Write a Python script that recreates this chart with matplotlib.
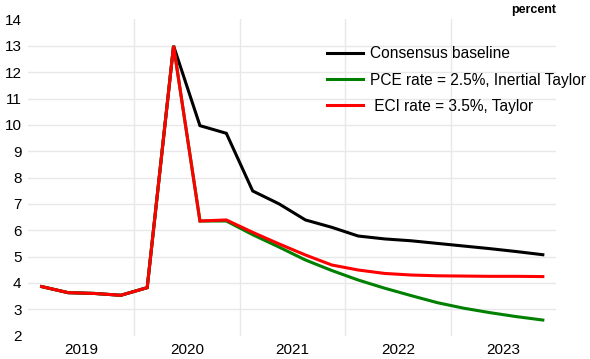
import matplotlib.pyplot as plt
import numpy as np

plt.rcParams['font.family'] = ['Liberation Sans', 'DejaVu Sans']

# quarterly points, 2019Q1 .. 2023Q4 (plotted at quarter midpoints)
quarters = np.arange(2019.125, 2024.0, 0.25)

baseline = [3.86, 3.63, 3.60, 3.53, 3.82, 13.0, 9.97, 9.68, 7.49, 7.00,
            6.39, 6.11, 5.78, 5.67, 5.60, 5.50, 5.40, 5.30, 5.19, 5.07]
pce_inertial = [3.86, 3.63, 3.60, 3.53, 3.82, 13.0, 6.35, 6.35, 5.83, 5.36,
                4.87, 4.47, 4.11, 3.80, 3.52, 3.25, 3.04, 2.87, 2.72, 2.59]
eci_taylor = [3.86, 3.63, 3.60, 3.53, 3.82, 13.0, 6.35, 6.39, 5.92, 5.48,
              5.06, 4.68, 4.49, 4.36, 4.30, 4.27, 4.26, 4.25, 4.25, 4.24]

labels = ['Consensus baseline', 'PCE rate = 2.5%, Inertial Taylor', ' ECI rate = 3.5%, Taylor']
colors = ['black', 'green', 'red']
years = [2019, 2020, 2021, 2022, 2023]

fig = plt.figure(figsize=(5.9, 3.59), dpi=100)
ax = fig.add_axes([0.0483, 0.0652, 0.8941, 0.8805])

for series, lab, col in zip([baseline, pce_inertial, eci_taylor], labels, colors):
    ax.plot(quarters, series, color=col, lw=2.2, label=lab, solid_joinstyle='miter')

ax.set_xlim(2019, 2024)
ax.set_ylim(2, 14)

# horizontal grid at integer levels, vertical at year boundaries
for v in range(3, 14):
    ax.axhline(v, color='#e8e8e8', lw=1, zorder=0)
for y in years[1:]:
    ax.axvline(y, color='#e8e8e8', lw=1, zorder=0)

ax.set_yticks(range(2, 15))
ax.set_xticks([y + 0.5 for y in years])
ax.set_xticklabels([str(y) for y in years])
ax.tick_params(length=0, labelsize=11, pad=5)
for s in ax.spines.values():
    s.set_visible(False)

ax.legend(loc='upper left', bbox_to_anchor=(0.566, 0.915), frameon=False, fontsize=11.2,
          handlelength=2.3, handletextpad=0.45, labelspacing=0.72, borderaxespad=0,
          borderpad=0)

fig.text(0.9424, 0.99, 'percent', ha='right', va='top', fontsize=9, fontweight='bold')

fig.savefig('out.png', dpi=100)
